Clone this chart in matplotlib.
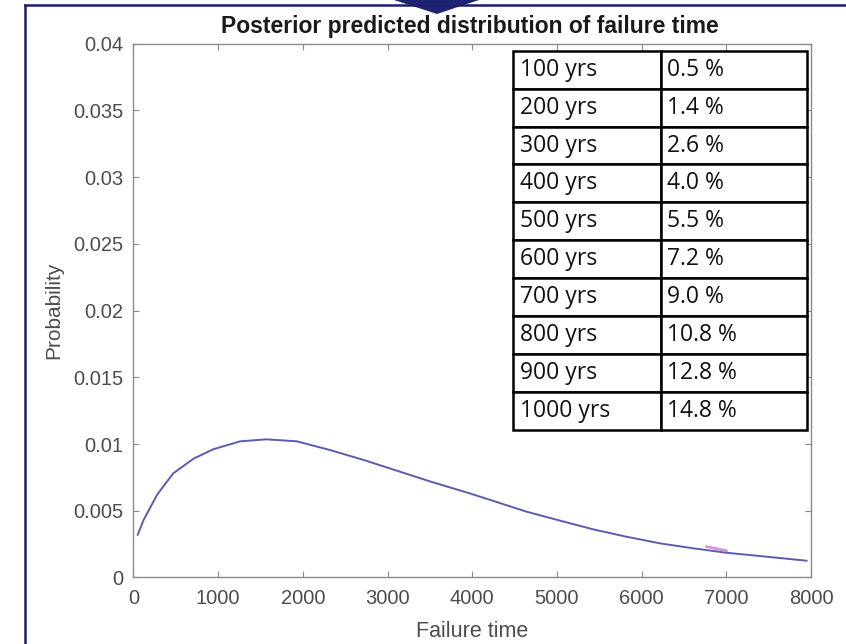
import matplotlib
matplotlib.use("Agg")
import matplotlib.pyplot as plt
from matplotlib.patches import Polygon
from matplotlib.lines import Line2D

# ---- data ----
failure_time = [50, 120, 280, 470, 710, 940, 1260, 1570, 1930, 2320, 2720, 3110,
                3500, 3970, 4250, 4640, 5040, 5430, 5820, 6220, 6610, 7000, 7400, 7950]
probability = [0.00318, 0.0043, 0.0062, 0.0078, 0.0089, 0.0096, 0.0102, 0.01035,
               0.0102, 0.00955, 0.0088, 0.0080, 0.0072, 0.0063, 0.00573, 0.00493,
               0.00425, 0.0036, 0.00305, 0.00255, 0.00218, 0.00185, 0.0016, 0.00125]
pink_x = [6770, 7000]
pink_y = [0.0023, 0.0020]

table_years = ["100 yrs", "200 yrs", "300 yrs", "400 yrs", "500 yrs",
               "600 yrs", "700 yrs", "800 yrs", "900 yrs", "1000 yrs"]
table_probs = ["0.5 %", "1.4 %", "2.6 %", "4.0 %", "5.5 %",
               "7.2 %", "9.0 %", "10.8 %", "12.8 %", "14.8 %"]

x_ticks = [0, 1000, 2000, 3000, 4000, 5000, 6000, 7000, 8000]
y_ticks = [0, 0.005, 0.01, 0.015, 0.02, 0.025, 0.03, 0.035, 0.04]
y_tick_labels = ["0", "0.005", "0.01", "0.015", "0.02", "0.025", "0.03", "0.035", "0.04"]

# ---- figure ----
W, H = 846, 644
fig = plt.figure(figsize=(W / 100, H / 100), dpi=100)
fig.patch.set_facecolor("white")

ax_l, ax_r, ax_t, ax_b = 133.4, 811, 43.8, 577.4
ax = fig.add_axes([ax_l / W, 1 - ax_b / H, (ax_r - ax_l) / W, (ax_b - ax_t) / H])

ax.plot(failure_time, probability, color="#5b5caf", lw=1.4,
        solid_capstyle="round", solid_joinstyle="round")
ax.plot(pink_x, pink_y, color="#c77bc6", lw=2.0, alpha=0.8)

ax.set_xlim(0, 8000)
ax.set_ylim(0, 0.04)
ax.set_xticks(x_ticks)
ax.set_xticklabels([str(v) for v in x_ticks])
ax.set_yticks(y_ticks)
ax.set_yticklabels(y_tick_labels)

tick_color = "#4d4d4d"
spine_color = "#8a8a8a"
for s in ax.spines.values():
    s.set_color(spine_color)
    s.set_linewidth(1.0)
ax.tick_params(axis="both", direction="in", length=4, width=0.8, color=spine_color,
               top=True, right=True, labelcolor=tick_color, labelsize=14.5)
ax.tick_params(axis="x", pad=8)
ax.tick_params(axis="y", pad=7)
for lab in ax.get_xticklabels() + ax.get_yticklabels():
    lab.set_fontfamily("Liberation Sans")

ax.set_xlabel("Failure time", fontsize=15.5, color=tick_color, family="Liberation Sans")
ax.set_ylabel("Probability", fontsize=15, color=tick_color, family="Liberation Sans")
ax.xaxis.set_label_coords(0.5, (ax_b - 621) / (ax_b - ax_t))
ax.yaxis.set_label_coords((63 - ax_l) / (ax_r - ax_l), 0.5)

fig.text((ax_l + ax_r) / 2 / W - 2 / W, 1 - 26 / H,
         "Posterior predicted distribution of failure time",
         ha="center", va="center", fontsize=16.5, fontweight="bold",
         family="Liberation Sans", color="#1a1a1a")

# ---- table ----
tx0, tx1, ty0, ty1 = 513.3, 806.7, 50.7, 430
bbox = [(tx0 - ax_l) / (ax_r - ax_l), (ax_b - ty1) / (ax_b - ax_t),
        (tx1 - tx0) / (ax_r - ax_l), (ty1 - ty0) / (ax_b - ax_t)]
cell_text = [[a, b] for a, b in zip(table_years, table_probs)]
tbl = ax.table(cellText=cell_text, cellLoc="left", bbox=bbox,
               colWidths=[147.4, 146.0])
tbl.auto_set_font_size(False)
tbl.set_zorder(5)
for (r, c), cell in tbl.get_celld().items():
    cell.set_edgecolor("black")
    cell.set_linewidth(1.8)
    cell.set_facecolor("white")
    cell.PAD = 0.045
    cell.get_text().set_fontsize(16.5)
    cell.get_text().set_fontfamily("Open Sans")
    cell.get_text().set_color("#111111")

# ---- decorative frame ----
navy = "#1c1f6e"
fig.add_artist(Line2D([25 / W, 25 / W], [0, 1 - 5 / H], transform=fig.transFigure,
                      color=navy, lw=1.8))
fig.add_artist(Line2D([25 / W, 1], [1 - 5 / H, 1 - 5 / H], transform=fig.transFigure,
                      color=navy, lw=1.8))
fig.add_artist(Polygon([(394 / W, 1), (479 / W, 1), (437 / W, 1 - 14 / H)],
                       closed=True, transform=fig.transFigure,
                       facecolor="#1e2472", edgecolor="none"))

fig.savefig("out.png", dpi=100)
